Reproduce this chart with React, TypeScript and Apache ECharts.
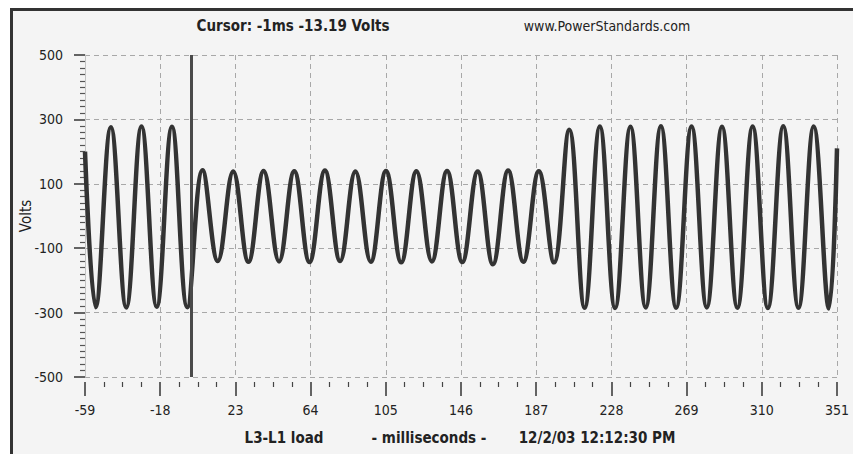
import React, { useEffect, useRef } from "react";
import * as echarts from "echarts";

// ---- data ----
const xTickLabelsMs = [-59, -18, 23, 64, 105, 146, 187, 228, 269, 310, 351];
const yTickLabelsVolts = [-500, -300, -100, 100, 300, 500];

// waveform turning points (start, peaks/troughs, end)
const waveTimesMs = [
  -59,
  -53.2, -44.9, -36.5, -28.2, -19.9, -11.6, -3.2,
  5.1, 13.4, 21.8, 30.1, 38.4, 46.8, 55.1, 63.4, 71.8, 80.1, 88.4, 96.8,
  105.1, 113.4, 121.7, 130.1, 138.4, 146.7, 155.1, 163.4, 171.7, 180.0, 188.4, 196.7,
  205.0, 213.4, 221.7, 230.0, 238.4, 246.7, 255.0, 263.3, 271.7, 280.0,
  288.3, 296.7, 305.0, 313.3, 321.7, 330.0, 338.3, 346.6,
  351,
];
const waveVolts = [
  200,
  -283, 276, -284, 278, -282, 277, -283,
  142, -140, 138, -142, 140, -141, 139, -143, 141, -140, 138, -142,
  140, -144, 139, -141, 140, -143, 138, -150, 141, -142, 139, -144,
  268, -285, 278, -286, 277, -284, 279, -285, 278, -284,
  277, -285, 278, -286, 279, -285, 278, -287,
  210,
];

const cursorMs = -1;
const titleText = "Cursor: -1ms -13.19 Volts";
const siteText = "www.PowerStandards.com";
const channelText = "L3-L1 load";
const unitText = "- milliseconds -";
const dateText = "12/2/03 12:12:30 PM";
const yName = "Volts";

const FONT = "'DejaVu Sans Condensed', 'Liberation Sans Narrow', 'DejaVu Sans', sans-serif";

export default function App() {
  const ref = useRef<HTMLDivElement>(null);
  useEffect(() => {
    if (!ref.current) return;
    const chart = echarts.init(ref.current, undefined, { renderer: "svg" });
    const points = waveTimesMs.map((t, i) => [t, waveVolts[i]]);
    const txt = (text: string, x: number, y: number, size: number, weight: string) => ({
      type: "text",
      x,
      y,
      style: {
        text,
        fill: "#222",
        font: `${weight} ${size}px ${FONT}`,
        align: "center",
        verticalAlign: "middle",
      },
    });
    chart.setOption({
      animation: false,
      backgroundColor: "#f4f4f4",
      grid: { left: 85, right: 16, top: 55, bottom: 77 },
      xAxis: {
        type: "value",
        min: xTickLabelsMs[0],
        max: xTickLabelsMs[xTickLabelsMs.length - 1],
        interval: xTickLabelsMs[1] - xTickLabelsMs[0],
        offset: 5,
        axisLine: { show: false, onZero: false },
        axisTick: { show: true, length: 14, lineStyle: { color: "#333", width: 1.5 } },
        minorTick: { show: true, splitNumber: 4, length: 5, lineStyle: { color: "#444", width: 1.2 } },
        axisLabel: { fontSize: 14, color: "#222", fontFamily: FONT, margin: 21 },
        splitLine: { show: true, lineStyle: { color: "#a8a8a8", type: [5, 4], width: 1 } },
      },
      yAxis: {
        type: "value",
        min: yTickLabelsVolts[0],
        max: yTickLabelsVolts[yTickLabelsVolts.length - 1],
        interval: yTickLabelsVolts[1] - yTickLabelsVolts[0],
        axisLine: { show: true, onZero: false, lineStyle: { color: "#c4c4c4", width: 1 } },
        axisTick: { show: true, length: 11, lineStyle: { color: "#333", width: 1.5 } },
        minorTick: { show: true, splitNumber: 10, length: 5, lineStyle: { color: "#555", width: 1.2 } },
        axisLabel: { fontSize: 14, color: "#222", fontFamily: FONT, margin: 22 },
        splitLine: { show: true, lineStyle: { color: "#a8a8a8", type: [5, 4], width: 1 } },
        name: yName,
        nameLocation: "middle",
        nameRotate: 90,
        nameGap: 52,
        nameMoveOverlap: false,
        nameTextStyle: { fontSize: 15, color: "#222", fontFamily: FONT },
      },
      series: [
        {
          type: "line",
          data: points,
          showSymbol: false,
          smooth: 0.4,
          lineStyle: { color: "#333", width: 4.5 },
          markLine: {
            silent: true,
            symbol: ["none", "none"],
            label: { show: false },
            lineStyle: { color: "#4a4a4a", width: 3, type: "solid" },
            data: [{ xAxis: cursorMs }],
          },
        },
      ],
      graphic: [
        { type: "rect", shape: { x: 0, y: 0, width: 853, height: 8 }, style: { fill: "#fff" } },
        { type: "rect", shape: { x: 0, y: 0, width: 10, height: 454 }, style: { fill: "#fff" } },
        { type: "line", shape: { x1: 10, y1: 9.5, x2: 853, y2: 9.5 }, style: { stroke: "#333", lineWidth: 3 } },
        { type: "line", shape: { x1: 11.5, y1: 8, x2: 11.5, y2: 454 }, style: { stroke: "#333", lineWidth: 3 } },
        txt(titleText, 293, 26, 15, "bold"),
        txt(siteText, 607, 26, 14, "normal"),
        txt(channelText, 284, 438, 15, "bold"),
        txt(unitText, 429, 438, 15, "bold"),
        txt(dateText, 597, 438, 15, "bold"),
      ],
    });
    return () => chart.dispose();
  }, []);
  return <div ref={ref} style={{ position: "fixed", left: 0, top: 0, width: 853, height: 454 }} />;
}
